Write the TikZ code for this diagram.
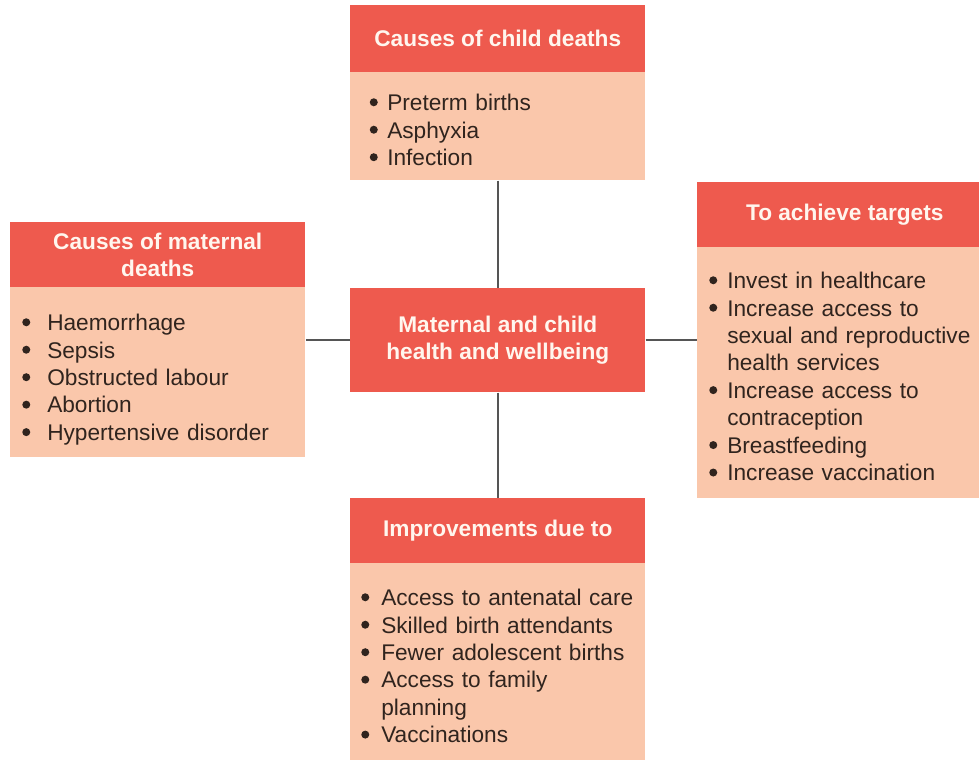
\documentclass[tikz,border=0pt]{standalone}
\usepackage{fontspec}
\setmainfont{Liberation Sans}
\definecolor{hdrc}{RGB}{238,90,78}
\definecolor{bodyc}{RGB}{250,199,171}
\definecolor{txtc}{RGB}{48,36,30}
\definecolor{hdrtxt}{RGB}{255,246,238}
\definecolor{lnc}{RGB}{85,85,85}
\newdimen\pxu \pxu=0.75pt
\newdimen\hw
\newcommand\bulmark{\tikz[baseline=0pt]{\path (0pt,0pt); \fill[txtc] (3pt,6.2pt) circle [radius=3pt];}}
\newcommand\bul[1]{\par\noindent\hangindent=\hw\hangafter=1\makebox[\hw][l]{\strut\bulmark}#1}
\tikzset{
  hdrbox/.style={fill=hdrc, draw=none, inner sep=0pt, anchor=north west, text=hdrtxt,
    font=\bfseries\fontsize{17}{20.25}\selectfont, align=center},
  bodybox/.style={fill=bodyc, draw=none, inner sep=0pt, anchor=north west},
  listtxt/.style={anchor=north west, inner sep=0pt, text=txtc, text width=300\pxu,
    font=\fontsize{17}{20.6}\selectfont},
  conn/.style={draw=lnc, line width=1.6pt}
}
\begin{document}
\begin{tikzpicture}[x=0.75pt,y=-0.75pt]
\fill[white] (0,0) rectangle (979,760);
\useasboundingbox (0,0) rectangle (979,760);

% top box
\node[bodybox, minimum width=295\pxu, minimum height=108\pxu] (topbody) at (350,72) {};
\node[hdrbox, minimum width=295\pxu, minimum height=67\pxu] (tophdr) at (350,5) {Causes of child deaths};
\node[listtxt] (toplist) at (369.5,82.8) {\parskip=0pt\hw=17.5\pxu
  \bul{Preterm births}\bul{Asphyxia}\bul{Infection}};

% left box
\node[bodybox, minimum width=295\pxu, minimum height=170\pxu] (leftbody) at (10,287) {};
\node[hdrbox, minimum width=295\pxu, minimum height=65\pxu] (lefthdr) at (10,222) {Causes of maternal\\deaths};
\node[listtxt] (leftlist) at (22,302.8) {\parskip=0pt\hw=25\pxu
  \bul{Haemorrhage}\bul{Sepsis}\bul{Obstructed labour}\bul{Abortion}\bul{Hypertensive disorder}};

% right box (cut by the right edge of the picture)
\node[bodybox, minimum width=295\pxu, minimum height=251\pxu] (rightbody) at (697,247) {};
\node[hdrbox, minimum width=295\pxu, minimum height=65\pxu] (righthdr) at (697,182) {To achieve targets};
\node[listtxt] (rightlist) at (709,260.8) {\parskip=0pt\hw=18\pxu
  \bul{Invest in healthcare}
  \bul{Increase access to\hfil\break sexual and reproductive\hfil\break health services}
  \bul{Increase access to\hfil\break contraception}
  \bul{Breastfeeding}
  \bul{Increase vaccination}};

% centre box
\node[hdrbox, minimum width=295\pxu, minimum height=104\pxu] (centre) at (350,288) {Maternal and child\\health and wellbeing};

% bottom box (cut by the bottom edge of the picture)
\node[bodybox, minimum width=295\pxu, minimum height=200\pxu] (botbody) at (350,563) {};
\node[hdrbox, minimum width=295\pxu, minimum height=65\pxu] (bothdr) at (350,498) {Improvements due to};
\node[listtxt] (botlist) at (361,577.8) {\parskip=0pt\hw=20\pxu
  \bul{Access to antenatal care}
  \bul{Skilled birth attendants}
  \bul{Fewer adolescent births}
  \bul{Access to family\hfil\break planning}
  \bul{Vaccinations}};

% connectors
\draw[conn] (topbody.south) -- (centre.north);
\draw[conn] (centre.south) -- (bothdr.north);
\draw[conn] (centre.west) -- (centre.west -| leftbody.east);
\draw[conn] (centre.east) -- (centre.east -| rightbody.west);
\end{tikzpicture}
\end{document}
